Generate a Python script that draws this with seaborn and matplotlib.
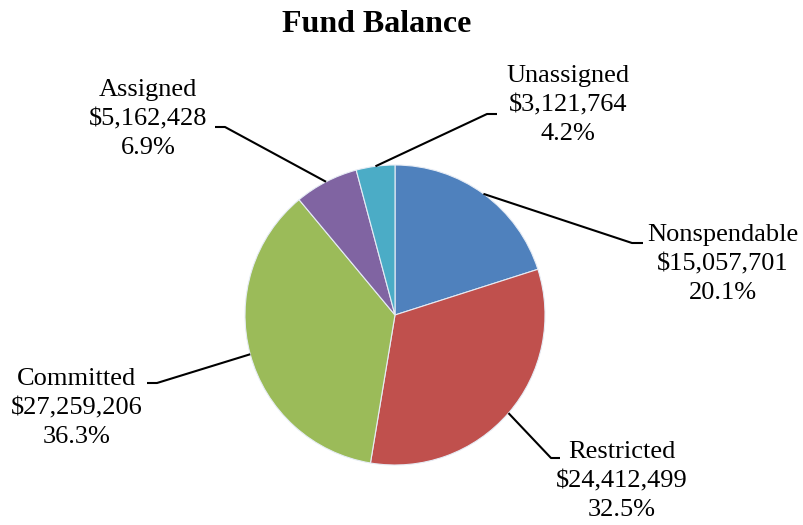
import matplotlib
matplotlib.use('Agg')
import matplotlib.pyplot as plt
import seaborn as sns
import numpy as np

categories = ['Nonspendable', 'Restricted', 'Committed', 'Assigned', 'Unassigned']
amounts = [15057701, 24412499, 27259206, 5162428, 3121764]
colors = ['#4F81BD', '#C0504D', '#9BBB59', '#8064A2', '#4BACC6']

# label layout in pixel coords of the 804x525 canvas: text centre, bend point, tick end
text_pos = [(723, 264), (622, 481), (77, 408), (148, 119), (568, 105)]
bends = [((632, 243), (643, 243)),
         ((551, 458), (560, 458)),
         ((157, 383), (147, 383)),
         ((225, 127), (215, 127)),
         ((487, 114), (497, 114))]

sns.set_style('white')
plt.rcParams['font.family'] = ['Liberation Serif', 'DejaVu Serif']

CX, CY, R = 395, 315, 150


def px(x, y):
    return (x - CX) / R, (CY - y) / R


fig = plt.figure(figsize=(8.04, 5.25), dpi=100, facecolor='white')
ax = fig.add_axes([0, 0, 1, 1])
ax.set_facecolor('white')

wedges, _ = ax.pie(amounts, colors=colors, startangle=90, counterclock=False,
                   radius=1, center=(0, 0),
                   wedgeprops=dict(edgecolor='#e6ecf5', linewidth=0.8))

total = sum(amounts)
for w, name, val, tp, (bend, tick) in zip(wedges, categories, amounts, text_pos, bends):
    ang = np.deg2rad((w.theta1 + w.theta2) / 2)
    ex, ey = np.cos(ang), np.sin(ang)
    bx, by = px(*bend)
    tx, ty = px(*tick)
    ax.plot([ex, bx, tx], [ey, by, ty], color='black', lw=1.5, solid_capstyle='butt')
    label = f'{name}\n${val:,}\n{val / total * 100:.1f}%'
    lx, ly = px(*tp)
    ax.text(lx, ly, label, ha='center', va='center', multialignment='center',
            fontsize=19, color='black', linespacing=1.42)

ax.set_xlim(-CX / R, (804 - CX) / R)
ax.set_ylim((CY - 525) / R, CY / R)
ax.set_aspect('auto')
ax.axis('off')

fig.text(377 / 804, 1 - 24 / 525, 'Fund Balance', ha='center', va='center',
         fontsize=23, fontweight='bold', color='black')

fig.savefig('out.png', dpi=100, facecolor='white')
